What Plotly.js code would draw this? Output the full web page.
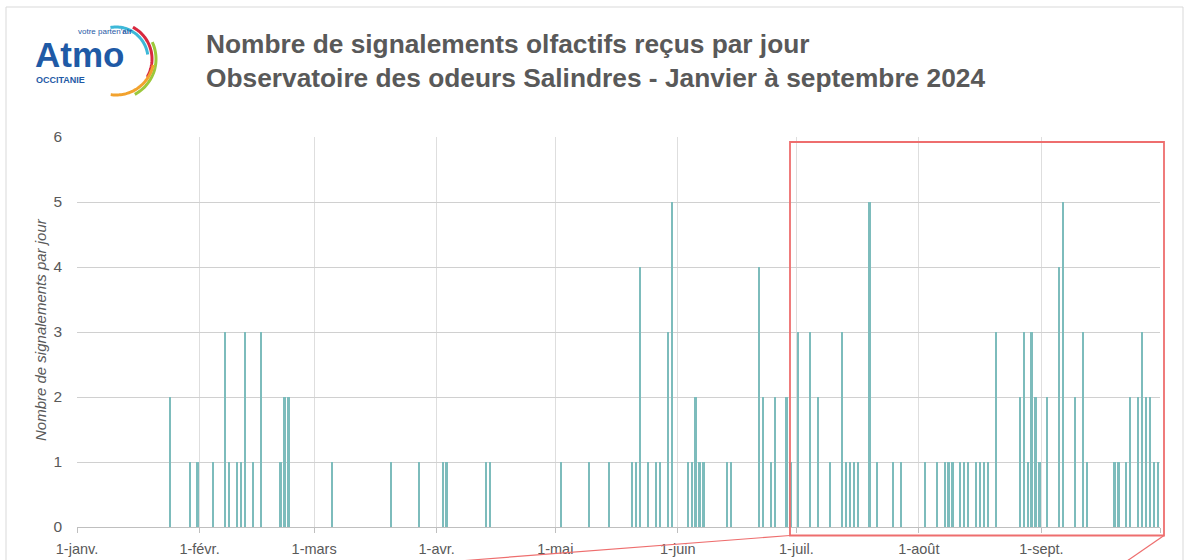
<!DOCTYPE html>
<html>
<head>
<meta charset="utf-8">
<script src="https://cdn.plot.ly/plotly-3.0.1.min.js"></script>
<style>html,body{margin:0;padding:0;background:#fff;}#chart{width:1189px;height:560px;}</style>
</head>
<body>
<div id="chart"></div>
<script>
// ---- Data (days with at least one report; other days = 0) ----
const dates = [
 '2024-01-24','2024-01-29','2024-01-31','2024-02-04','2024-02-07','2024-02-08','2024-02-10','2024-02-11','2024-02-12','2024-02-14','2024-02-16','2024-02-21','2024-02-22','2024-02-23',
 '2024-03-05','2024-03-20','2024-03-27','2024-04-02','2024-04-03','2024-04-13','2024-04-14',
 '2024-05-02','2024-05-09','2024-05-14','2024-05-20','2024-05-21','2024-05-22','2024-05-24','2024-05-26','2024-05-27','2024-05-29','2024-05-30',
 '2024-06-03','2024-06-04','2024-06-05','2024-06-06','2024-06-07','2024-06-13','2024-06-14','2024-06-21','2024-06-22','2024-06-24','2024-06-25','2024-06-28','2024-06-29',
 '2024-07-01','2024-07-04','2024-07-06','2024-07-09','2024-07-12','2024-07-13','2024-07-14','2024-07-15','2024-07-16','2024-07-19','2024-07-21','2024-07-25','2024-07-27',
 '2024-08-02','2024-08-05','2024-08-07','2024-08-08','2024-08-09','2024-08-11','2024-08-12','2024-08-13','2024-08-15','2024-08-16','2024-08-17','2024-08-18','2024-08-20','2024-08-26','2024-08-27','2024-08-28','2024-08-29','2024-08-30','2024-08-31',
 '2024-09-02','2024-09-05','2024-09-06','2024-09-09','2024-09-11','2024-09-12','2024-09-19','2024-09-20','2024-09-22','2024-09-23','2024-09-25','2024-09-26','2024-09-27','2024-09-28','2024-09-29','2024-09-30'
];
const counts = [
 2,1,1,1,3,1,1,1,3,1,3,1,2,2,
 1,1,1,1,1,1,1,
 1,1,1,1,1,4,1,1,1,3,5,
 1,1,2,1,1,1,1,4,2,1,2,2,1,
 3,3,2,1,3,1,1,1,1,5,1,1,1,
 1,1,1,1,1,1,1,1,1,1,1,1,3,2,3,1,3,2,1,
 2,4,5,2,3,1,1,1,1,2,2,3,2,2,1,1
];
const tickDates = ['2024-01-01','2024-02-01','2024-03-01','2024-04-01','2024-05-01','2024-06-01','2024-07-01','2024-08-01','2024-09-01','2024-10-01'];
const tickLabels = ['1-janv.','1-févr.','1-mars','1-avr.','1-mai','1-juin','1-juil.','1-août','1-sept.',''];
const titleLines = ['Nombre de signalements olfactifs reçus par jour','Observatoire des odeurs Salindres - Janvier à septembre 2024'];
const yTitle = 'Nombre de signalements par jour';

// ---- Layout geometry helpers (pixel -> paper) ----
const W = 1189, H = 560, L = 77, R = 29, T = 137, B = 33;
const PW = W - L - R, PH = H - T - B;
const px = x => (x - L) / PW;
const py = y => (H - B - y) / PH;
function arcPath(cx, cy, r, a0, a1) {
  const n = 40; let s = '';
  for (let i = 0; i <= n; i++) {
    const a = (a0 + (a1 - a0) * i / n) * Math.PI / 180;
    const x = cx + r * Math.cos(a), y = cy - r * Math.sin(a);
    s += (i ? ' L ' : 'M ') + px(x).toFixed(5) + ' ' + py(y).toFixed(5);
  }
  return s;
}

const FONT = '"Liberation Sans", Arial, sans-serif';
const GREY = '#595959';
const DAY = 86400000;

const trace = {
  type: 'bar', x: dates, y: counts,
  xperiod: DAY, xperiodalignment: 'middle',
  width: 0.55 * DAY,
  marker: {color: '#7DBCBC', line: {width: 0}},
  hoverinfo: 'x+y'
};

const red = '#EE6E6E';
const shapes = [
  {type:'rect', xref:'paper', yref:'paper', x0:px(6), x1:px(1183), y0:py(7), y1:py(590), line:{color:'#d9d9d9', width:1}, layer:'below'},
  {type:'rect', xref:'paper', yref:'paper', x0:px(790), x1:px(1164), y0:py(535.5), y1:py(142), line:{color:red, width:1.8}},
  {type:'line', xref:'paper', yref:'paper', x0:px(790), y0:py(535.5), x1:px(465), y1:py(560.5), line:{color:red, width:1.2}},
  {type:'line', xref:'paper', yref:'paper', x0:px(1164), y0:py(535.5), x1:px(1127), y1:py(561), line:{color:red, width:1.2}},
  // logo arcs
  {type:'path', xref:'paper', yref:'paper', path: arcPath(116, 59, 32, 100, 8), line:{color:'#3DB8D8', width:3}},
  {type:'path', xref:'paper', yref:'paper', path: arcPath(116, 59, 36, 62, -30), line:{color:'#D8283F', width:3}},
  {type:'path', xref:'paper', yref:'paper', path: arcPath(116, 59, 40, 25, -62), line:{color:'#9CC83A', width:3}},
  {type:'path', xref:'paper', yref:'paper', path: arcPath(116, 57, 38, -12, -98), line:{color:'#F2A22E', width:3}}
];

const annotations = [
  {xref:'paper', yref:'paper', x:px(40), y:py(330), text:yTitle, textangle:-90, showarrow:false,
   xanchor:'center', yanchor:'middle', font:{family:FONT, size:15, color:GREY, style:'italic'}},
  {xref:'paper', yref:'paper', x:px(33), y:py(54), text:'<b>Atmo</b>', showarrow:false,
   xanchor:'left', yanchor:'middle', font:{family:FONT, size:35, color:'#1F5AA6'}},
  {xref:'paper', yref:'paper', x:px(76), y:py(31), text:'votre parten\'<b>air</b>', showarrow:false,
   xanchor:'left', yanchor:'middle', font:{family:FONT, size:8, color:'#1F5AA6'}},
  {xref:'paper', yref:'paper', x:px(34), y:py(80), text:'<b>OCCITANIE</b>', showarrow:false,
   xanchor:'left', yanchor:'middle', font:{family:FONT, size:9, color:'#1F5AA6'}}
];

const layout = {
  width: W, height: H,
  margin: {l: L, r: R, t: T, b: B, pad: 0},
  paper_bgcolor: '#ffffff', plot_bgcolor: '#ffffff',
  showlegend: false,
  bargap: 0,
  title: {
    text: '<b>' + titleLines[0] + '</b><br><b>' + titleLines[1] + '</b>',
    x: 206 / W, xanchor: 'left', xref: 'container',
    y: 1 - 53 / H, yanchor: 'middle', yref: 'container',
    font: {family: FONT, size: 26.3, color: GREY}
  },
  xaxis: {
    type: 'date',
    range: ['2024-01-01', '2024-10-01'],
    tickmode: 'array', tickvals: tickDates, ticktext: tickLabels,
    showgrid: true, gridcolor: '#dedede', gridwidth: 1,
    ticks: 'outside', ticklen: 5, tickcolor: '#bfbfbf',
    showline: true, linecolor: '#bfbfbf', linewidth: 1,
    tickfont: {family: FONT, size: 14.5, color: GREY},
    ticklabelstandoff: 4,
    zeroline: false, fixedrange: true
  },
  yaxis: {
    range: [0, 6], dtick: 1, tick0: 0,
    showgrid: true, gridcolor: '#d0d0d0', gridwidth: 1,
    zeroline: false, showline: false, ticks: '',
    tickfont: {family: FONT, size: 15.5, color: GREY},
    ticklabelstandoff: 14, fixedrange: true
  },
  shapes: shapes,
  annotations: annotations
};

Plotly.newPlot('chart', [trace], layout, {displayModeBar: false, staticPlot: true});
</script>
</body>
</html>
